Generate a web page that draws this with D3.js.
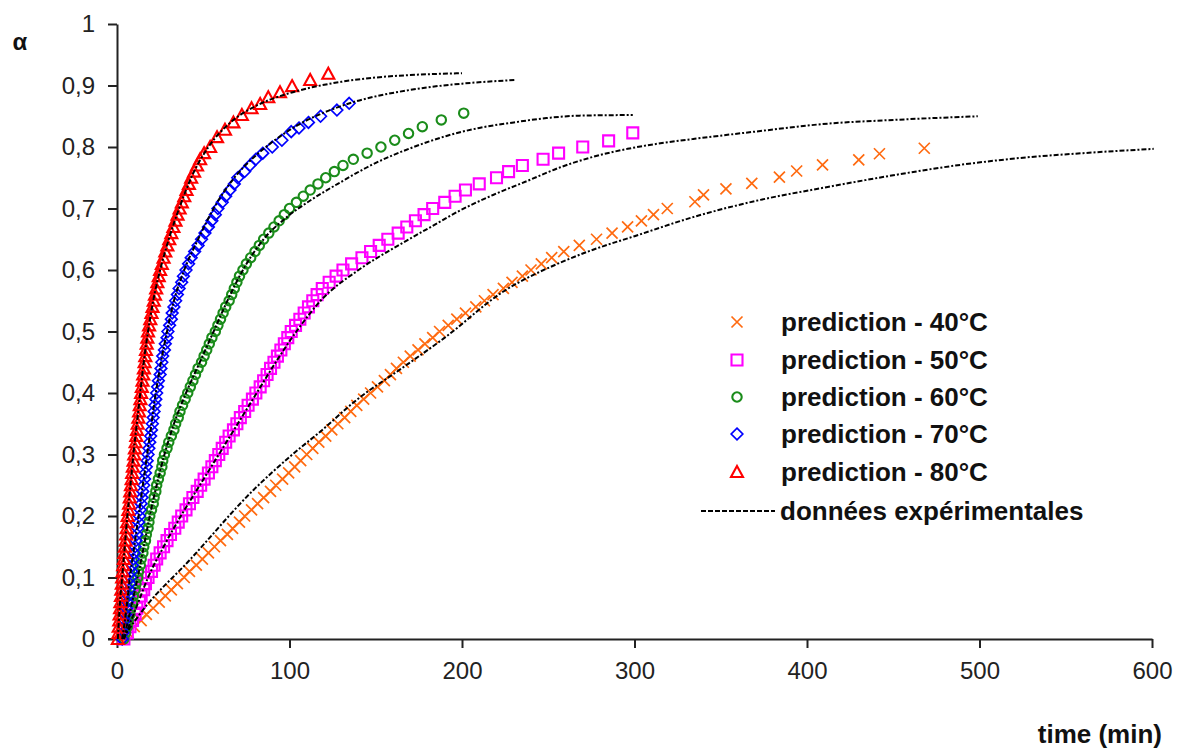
<!DOCTYPE html>
<html>
<head>
<meta charset="utf-8">
<script src="https://cdn.jsdelivr.net/npm/d3@7"></script>
<style>
  html, body { margin: 0; padding: 0; background: #fff; }
  svg { display: block; }
  text { font-family: "Liberation Sans", Arial, sans-serif; }
</style>
</head>
<body>
<svg id="chart" width="1184" height="749"></svg>
<script>
// ---------- data ----------
const xTicks = [0, 100, 200, 300, 400, 500, 600];
const yTicks = [0, 0.1, 0.2, 0.3, 0.4, 0.5, 0.6, 0.7, 0.8, 0.9, 1];
const seriesNames = ["prediction - 40°C", "prediction - 50°C", "prediction - 60°C", "prediction - 70°C", "prediction - 80°C"];
const expName = "données expérimentales";

// prediction 40°C
const pred40T = [3,6.5,10,14,17,21,24.5,28,31.5,35,39,42,46,49.5,53,56.5,60,64,67,71,74,78,81.5,85,89,92,96,99.5,103,106.5,110,113.5,117,121,124.5,128,132,135.5,139,143,147,151,155,158.5,162,166,170,174.5,178.5,183,187,192,197,202,208,213,218,224,229,235,240,246,252,259,268,278,287,296,304,311,319,335,340,353,368,384,394,409,430,442,468];
const pred40A = [0,0.01,0.02,0.03,0.04,0.05,0.06,0.07,0.08,0.09,0.10,0.11,0.12,0.13,0.14,0.15,0.16,0.17,0.18,0.19,0.20,0.21,0.22,0.23,0.24,0.25,0.26,0.27,0.28,0.29,0.30,0.31,0.32,0.33,0.34,0.35,0.36,0.37,0.38,0.39,0.40,0.41,0.42,0.43,0.44,0.45,0.46,0.47,0.48,0.49,0.50,0.51,0.52,0.53,0.54,0.55,0.56,0.57,0.58,0.59,0.60,0.61,0.62,0.63,0.64,0.65,0.66,0.67,0.68,0.69,0.70,0.711,0.722,0.732,0.741,0.751,0.761,0.771,0.779,0.789,0.798];

// prediction 50°C
const pred50T = [4,6,7.5,9,10.5,11.5,13,14,15.5,16.5,18,20,21.5,23,25,27,29,31,33.5,35.5,37.5,40,42,44,46.5,48.5,50.5,53,55,57,59,61,63,65,67.5,69.5,71.5,74,76,78.5,80.5,83,85,87,89,91,93,95,97,99,101,103.5,106,108.5,111,113.5,116,119,123,127,131,136,142,147,152,157,163,168,173,178,183,190,196,202,210,220,227,235,247,256,270,285,299];
const pred50A = [0,0.01,0.02,0.03,0.04,0.05,0.06,0.07,0.08,0.09,0.10,0.11,0.12,0.13,0.14,0.15,0.16,0.17,0.18,0.19,0.20,0.21,0.22,0.23,0.24,0.25,0.26,0.27,0.28,0.29,0.30,0.31,0.32,0.33,0.34,0.35,0.36,0.37,0.38,0.39,0.40,0.41,0.42,0.43,0.44,0.45,0.46,0.47,0.48,0.49,0.50,0.51,0.52,0.53,0.54,0.55,0.56,0.57,0.58,0.59,0.60,0.61,0.62,0.63,0.64,0.65,0.66,0.67,0.68,0.69,0.70,0.71,0.72,0.73,0.74,0.75,0.76,0.77,0.78,0.79,0.80,0.81,0.823];

// prediction 60°C
const pred60T = [4,5,6,6.5,7.5,8,9,9.5,10.5,11,12,12.5,13.5,14,15,15.5,16.5,17,18,18.5,19,20,21,21.5,22.5,23,24,25,26,26.5,27.5,29,30,31.5,33,34,35.5,36.5,38,39.5,41,42.5,44,45.5,47,49,50.5,52,53.5,55,57,58.5,60,61.5,63,65,66.5,68,69.5,71,73,75,77.5,80,82.5,85,88,91,94,97,100,104,108,112,116.5,121,126,131,137,145,153,161,169,177,188,201];
const pred60A = [0,0.01,0.02,0.03,0.04,0.05,0.06,0.07,0.08,0.09,0.10,0.11,0.12,0.13,0.14,0.15,0.16,0.17,0.18,0.19,0.20,0.21,0.22,0.23,0.24,0.25,0.26,0.27,0.28,0.29,0.30,0.31,0.32,0.33,0.34,0.35,0.36,0.37,0.38,0.39,0.40,0.41,0.42,0.43,0.44,0.45,0.46,0.47,0.48,0.49,0.50,0.51,0.52,0.53,0.54,0.55,0.56,0.57,0.58,0.59,0.60,0.61,0.62,0.63,0.64,0.65,0.66,0.67,0.68,0.69,0.70,0.71,0.72,0.73,0.74,0.75,0.76,0.77,0.78,0.79,0.80,0.811,0.822,0.833,0.844,0.855];

// prediction 70°C
const pred70T = [3,3.5,4,4.5,5,5.5,6,6.5,7,7.5,8,8.5,9,9.5,10,10.5,11,11.5,12,12.5,13,13.5,14,14.5,15,15.5,16,16.5,17,17.5,18,18.5,19,19.5,20,20.5,21,21.5,22,22.5,23,23.5,24,25,25.5,26,26.5,27.5,28,29,29.5,30.5,31.5,32,33,34,35,36,37.5,38.5,40,41.5,43,45,47,49,51,53,55,57,58.5,61,63,65.5,68,70,74,77,80.5,84.5,90,95.6,101,105.5,111,118,127.5,134.6];
const pred70A = [0,0.01,0.02,0.03,0.04,0.05,0.06,0.07,0.08,0.09,0.10,0.11,0.12,0.13,0.14,0.15,0.16,0.17,0.18,0.19,0.20,0.21,0.22,0.23,0.24,0.25,0.26,0.27,0.28,0.29,0.30,0.31,0.32,0.33,0.34,0.35,0.36,0.37,0.38,0.39,0.40,0.41,0.42,0.43,0.44,0.45,0.46,0.47,0.48,0.49,0.50,0.51,0.52,0.53,0.54,0.55,0.56,0.57,0.58,0.59,0.60,0.61,0.62,0.63,0.64,0.65,0.66,0.67,0.68,0.69,0.70,0.71,0.72,0.73,0.74,0.75,0.76,0.77,0.78,0.79,0.80,0.811,0.825,0.831,0.84,0.85,0.86,0.871];

// prediction 80°C
const pred80T = [0.5,0.8,1,1.3,1.5,1.8,2,2.3,2.5,2.8,3,3.3,3.6,4,4.3,4.6,5,5.3,5.6,5.9,6.2,6.6,7,7.4,7.7,8.1,8.5,8.8,9.2,9.6,10,10.4,10.8,11.2,11.6,12,12.4,12.8,13.2,13.6,14,14.4,14.8,15.2,15.6,16,16.4,16.8,17.2,17.6,18,18.6,19.3,20,20.6,21.3,22,22.7,23.4,24.2,25,26,27,28,29.2,30.3,31.5,32.7,33.9,35.1,36.3,37.6,39,40.3,41.7,43,44.7,46.4,48.2,50.5,54,58,62.6,67.5,72.4,78,83,87.7,94.5,101.5,112,122.5];
const pred80A = [0,0.01,0.02,0.03,0.04,0.05,0.06,0.07,0.08,0.09,0.10,0.11,0.12,0.13,0.14,0.15,0.16,0.17,0.18,0.19,0.20,0.21,0.22,0.23,0.24,0.25,0.26,0.27,0.28,0.29,0.30,0.31,0.32,0.33,0.34,0.35,0.36,0.37,0.38,0.39,0.40,0.41,0.42,0.43,0.44,0.45,0.46,0.47,0.48,0.49,0.50,0.51,0.52,0.53,0.54,0.55,0.56,0.57,0.58,0.59,0.60,0.61,0.62,0.63,0.64,0.65,0.66,0.67,0.68,0.69,0.70,0.71,0.72,0.73,0.74,0.75,0.76,0.77,0.78,0.79,0.80,0.816,0.828,0.84,0.852,0.863,0.87,0.881,0.889,0.899,0.909,0.919];

// experimental curves
const exp40T = [3,15,42,79,100,119,139,165,190,224,257,276,300,334,373,412,450,489,523,560,601];
const exp40A = [0,0.047,0.128,0.242,0.296,0.34,0.389,0.44,0.49,0.565,0.612,0.633,0.655,0.686,0.714,0.735,0.754,0.771,0.782,0.79,0.797];
const exp50T = [4,11,18,27,37,48,59,70,81,92,104,118,140,160,180,199,218,238,257,276,296,315,334,373,412,450,499];
const exp50A = [0,0.05,0.1,0.15,0.2,0.25,0.3,0.35,0.4,0.45,0.5,0.55,0.6,0.635,0.667,0.697,0.722,0.745,0.767,0.784,0.797,0.806,0.813,0.826,0.838,0.844,0.85];
const exp60T = [4,8,12,15.5,19,23,27.5,33,40,48,56,64,73,85,98,112,131,147,172,191,210,230,249,268,299];
const exp60A = [0,0.05,0.1,0.15,0.2,0.25,0.3,0.35,0.4,0.45,0.5,0.55,0.6,0.65,0.685,0.713,0.745,0.77,0.8,0.818,0.831,0.84,0.847,0.851,0.852];
const exp70T = [3,5.5,7.5,10,12.5,15,17.5,20,22.5,25.5,29,33,39,47,56,68,80,90,105,120,137,151,164,180,200,231];
const exp70A = [0,0.05,0.1,0.15,0.2,0.25,0.3,0.35,0.4,0.45,0.5,0.55,0.6,0.65,0.7,0.75,0.785,0.808,0.836,0.856,0.873,0.883,0.89,0.897,0.903,0.909];
const exp80T = [0.5,1.5,3,4.5,6,7.8,9.5,11.5,13.5,15.5,18,21,25,30,36,43,53,65,80,97,113,130,150,170,200];
const exp80A = [0,0.05,0.1,0.15,0.2,0.25,0.3,0.35,0.4,0.45,0.5,0.55,0.6,0.65,0.7,0.75,0.8,0.838,0.866,0.885,0.897,0.906,0.913,0.917,0.92];

// ---------- chart ----------
const svg = d3.select("#chart");
svg.append("rect").attr("width", 1184).attr("height", 749).attr("fill", "#fff");

const x = d3.scaleLinear().domain([0, 600]).range([117, 1152]);
const y = d3.scaleLinear().domain([0, 1]).range([639, 24]);

const zip = (T, A) => T.map((t, i) => ({ t, a: A[i] }));

const preds = [
  { name: seriesNames[0], data: zip(pred40T, pred40A), color: "#FF6A10", shape: "x" },
  { name: seriesNames[1], data: zip(pred50T, pred50A), color: "#FF00FF", shape: "square" },
  { name: seriesNames[2], data: zip(pred60T, pred60A), color: "#1A8C1A", shape: "circle" },
  { name: seriesNames[3], data: zip(pred70T, pred70A), color: "#0000FF", shape: "diamond" },
  { name: seriesNames[4], data: zip(pred80T, pred80A), color: "#FF0000", shape: "triangle" }
];
const exps = [zip(exp40T, exp40A), zip(exp50T, exp50A), zip(exp60T, exp60A), zip(exp70T, exp70A), zip(exp80T, exp80A)];

function shapePath(shape) {
  switch (shape) {
    case "x": return "M-5.5,-5.5L5.5,5.5M5.5,-5.5L-5.5,5.5";
    case "square": return "M-5.5,-5.5H5.5V5.5H-5.5Z";
    case "circle": return "M-4.7,0A4.7,4.7 0 1,0 4.7,0A4.7,4.7 0 1,0 -4.7,0Z";
    case "diamond": return "M0,-5.8L5.8,0L0,5.8L-5.8,0Z";
    case "triangle": return "M0,-6L6,5L-6,5Z";
  }
}
function shapeWidth(shape) {
  return shape === "x" ? 1.7 : shape === "diamond" ? 1.7 : 2.1;
}

// axes
const fmt = d => d === 0 ? "0" : d === 1 ? "1" : d3.format(".1f")(d).replace(".", ",");
const yAxis = svg.append("g").attr("transform", "translate(117,0)")
  .call(d3.axisLeft(y).tickValues(yTicks).tickFormat(fmt).tickSize(9).tickSizeOuter(0).tickPadding(13));
const xAxis = svg.append("g").attr("transform", "translate(0,639)")
  .call(d3.axisBottom(x).tickValues(xTicks).tickFormat(d3.format("d")).tickSize(9).tickSizeOuter(0).tickPadding(14));
[yAxis, xAxis].forEach(g => {
  g.select(".domain").attr("stroke", "#222").attr("stroke-width", 2);
  g.selectAll(".tick line").attr("stroke", "#222").attr("stroke-width", 2);
  g.selectAll(".tick text").attr("fill", "#222").style("font-size", "24px")
    .style("font-family", "'Liberation Sans', Arial, sans-serif");
});
// extend x-axis line to the y-axis tick
svg.append("line").attr("x1", 108).attr("x2", 117).attr("y1", 639).attr("y2", 639)
  .attr("stroke", "#222").attr("stroke-width", 2);

// prediction markers
preds.forEach(s => {
  svg.append("g").selectAll("path").data(s.data).join("path")
    .attr("transform", d => `translate(${x(d.t)},${y(d.a)})`)
    .attr("d", shapePath(s.shape))
    .attr("fill", "none")
    .attr("stroke", s.color)
    .attr("stroke-width", shapeWidth(s.shape));
});

// experimental lines
const line = d3.line().x(d => x(d.t)).y(d => y(d.a)).curve(d3.curveMonotoneX);
exps.forEach(e => {
  svg.append("path").datum(e).attr("d", line)
    .attr("fill", "none").attr("stroke", "#000").attr("stroke-width", 2)
    .attr("stroke-dasharray", "5,2,2,2");
});

// axis titles
svg.append("text").attr("x", 20).attr("y", 50).attr("text-anchor", "middle")
  .style("font-size", "24px").style("font-weight", "bold").attr("fill", "#111").text("α");
svg.append("text").attr("x", 1162).attr("y", 743).attr("text-anchor", "end")
  .style("font-size", "26px").style("font-weight", "bold").attr("fill", "#111").text("time (min)");

// legend
const legendRows = [322, 360, 397, 434, 472];
preds.forEach((s, i) => {
  const g = svg.append("g").attr("transform", `translate(737,${legendRows[i]})`);
  g.append("path").attr("d", shapePath(s.shape)).attr("fill", "none")
    .attr("stroke", s.color).attr("stroke-width", shapeWidth(s.shape));
  g.append("text").attr("x", 44).attr("y", 9)
    .style("font-size", "26px").style("font-weight", "bold").attr("fill", "#111").text(s.name);
});
svg.append("line").attr("x1", 701).attr("x2", 775).attr("y1", 511).attr("y2", 511)
  .attr("stroke", "#000").attr("stroke-width", 1.8).attr("stroke-dasharray", "5,2");
svg.append("text").attr("x", 780).attr("y", 520)
  .style("font-size", "26px").style("font-weight", "bold").attr("fill", "#111").text(expName);
</script>
</body>
</html>
